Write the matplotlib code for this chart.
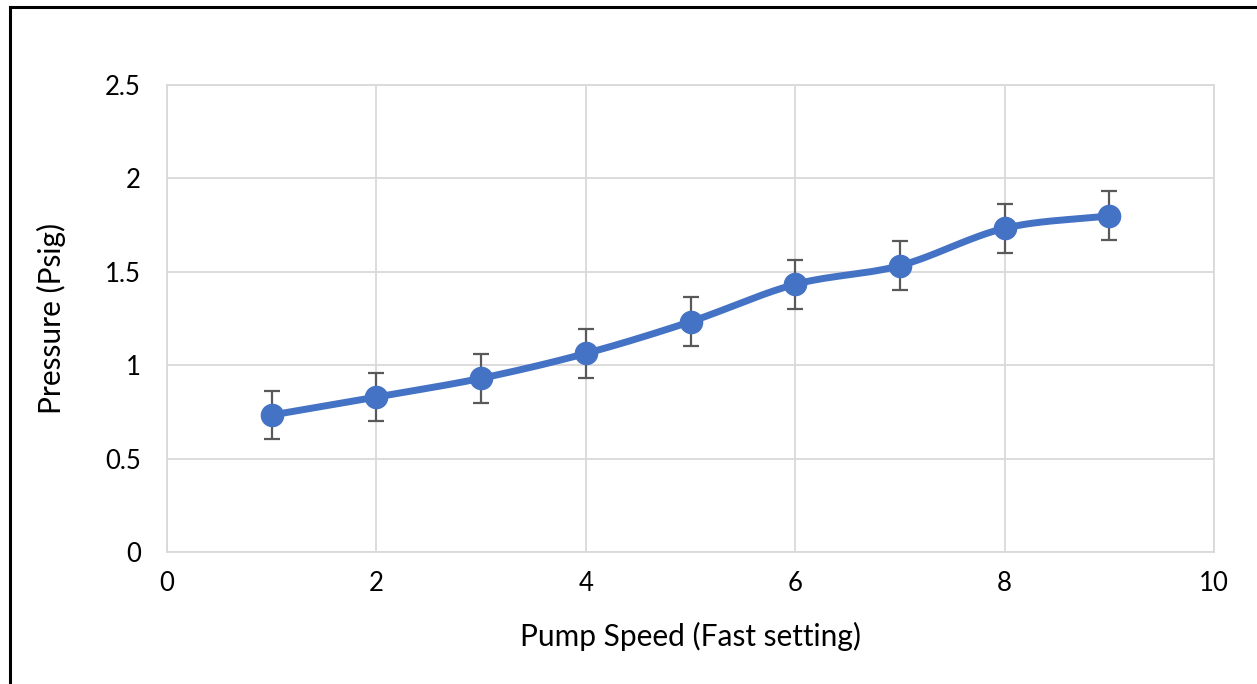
import numpy as np
import matplotlib
matplotlib.use("Agg")
import matplotlib.pyplot as plt
from matplotlib.lines import Line2D

plt.rcParams['font.family'] = ['Lato', 'DejaVu Sans']

speed = [1, 2, 3, 4, 5, 6, 7, 8, 9]
pressure = [0.733, 0.83, 0.93, 1.063, 1.233, 1.433, 1.533, 1.733, 1.80]
err = [0.13, 0.13, 0.13, 0.13, 0.13, 0.13, 0.13, 0.13, 0.13]
xticks = [0, 2, 4, 6, 8, 10]
yticks = [0, 0.5, 1, 1.5, 2, 2.5]
yticklabels = ['0', '0.5', '1', '1.5', '2', '2.5']

def catmull_rom(x, y, n=30):
    x = np.asarray(x, float); y = np.asarray(y, float)
    px = np.concatenate([[2*x[0]-x[1]], x, [2*x[-1]-x[-2]]])
    py = np.concatenate([[2*y[0]-y[1]], y, [2*y[-1]-y[-2]]])
    xs, ys = [], []
    t = np.linspace(0, 1, n)
    for i in range(1, len(px)-2):
        for p, out in ((px, xs), (py, ys)):
            p0, p1, p2, p3 = p[i-1], p[i], p[i+1], p[i+2]
            out.extend(0.5*((2*p1) + (-p0+p2)*t + (2*p0-5*p1+4*p2-p3)*t**2 + (-p0+3*p1-3*p2+p3)*t**3))
    return np.array(xs), np.array(ys)

fig = plt.figure(figsize=(12.57, 6.84), dpi=100)
ax = fig.add_axes([0.1329, 0.193, 0.9658-0.1329, 0.8757-0.193])

grid_c = '#D9D9D9'
ax.set_xlim(0, 10)
ax.set_ylim(0, 2.5)
ax.set_xticks(xticks)
ax.set_yticks(yticks)
ax.set_yticklabels(yticklabels)
ax.grid(True, color=grid_c, linewidth=1.3)
ax.set_axisbelow(True)
for s in ax.spines.values():
    s.set_color(grid_c)
    s.set_linewidth(1.3)
ax.tick_params(length=0, labelsize=18.5, colors='black')
ax.tick_params(axis='y', pad=19)
ax.tick_params(axis='x', pad=14)

sx, sy = catmull_rom(speed, pressure)
ax.plot(sx, sy, color='#4472C4', linewidth=5, solid_capstyle='round', zorder=3)
ax.errorbar(speed, pressure, yerr=err, fmt='none', ecolor='#595959', elinewidth=1.6,
            capsize=6, capthick=1.6, zorder=4)
ax.plot(speed, pressure, 'o', color='#4472C4', markersize=16, zorder=5)

ax.set_xlabel('Pump Speed (Fast setting)', fontsize=21.5, labelpad=18)
ax.set_ylabel('Pressure (Psig)', fontsize=21.5, labelpad=28)

fig.add_artist(Line2D([10/1257, 10/1257], [0, 1-7/684], color='black', linewidth=2.2, transform=fig.transFigure))
fig.add_artist(Line2D([10/1257, 1], [1-7/684, 1-7/684], color='black', linewidth=2.2, transform=fig.transFigure))

fig.savefig('out.png', dpi=100)
